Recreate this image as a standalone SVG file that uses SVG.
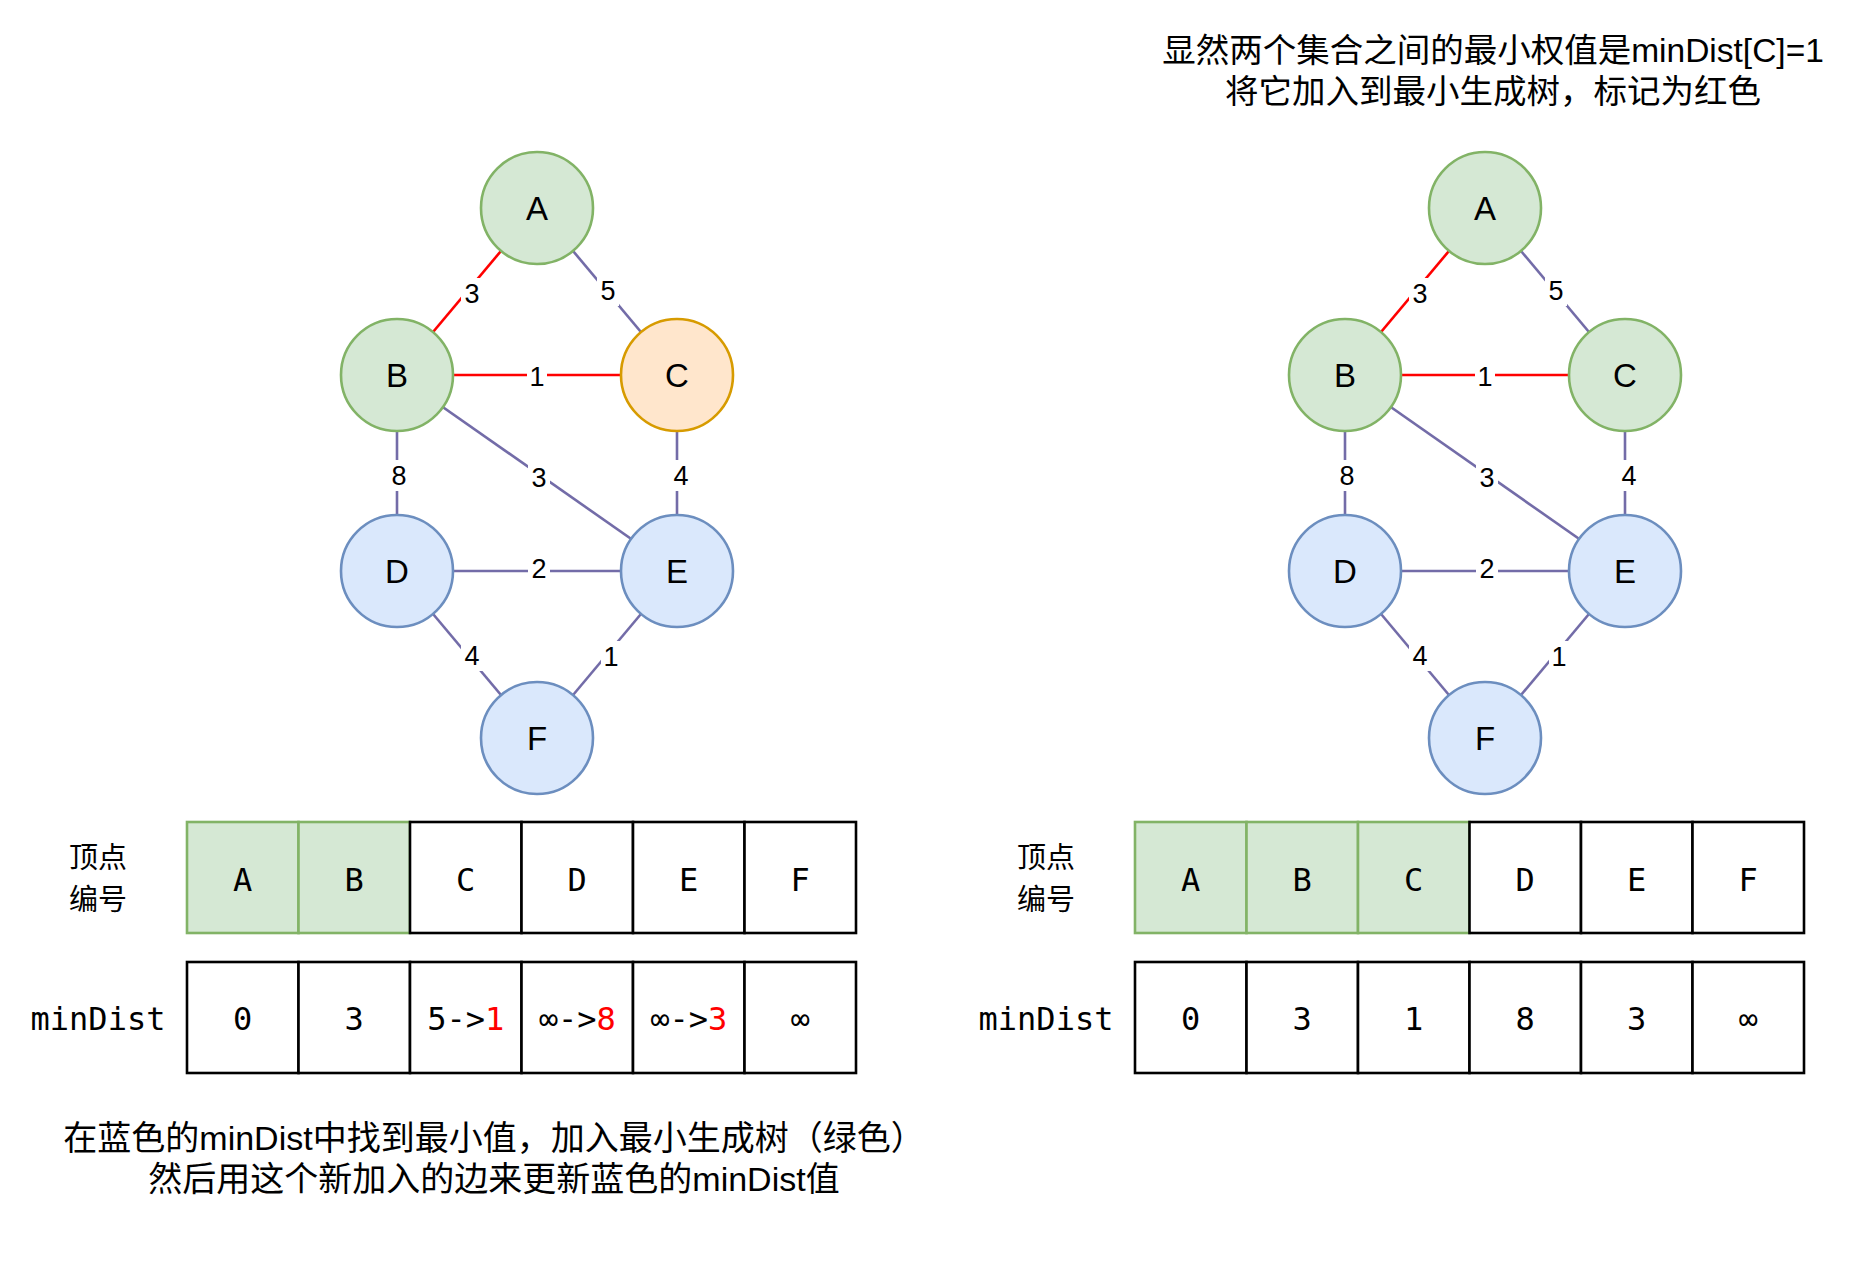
<svg xmlns="http://www.w3.org/2000/svg" width="1866" height="1270" viewBox="0 0 1866 1270">
<style>
.g{fill:#d5e8d4;stroke:#82b366;stroke-width:2.6}
.o{fill:#ffe6cc;stroke:#d79b00;stroke-width:2.6}
.b{fill:#dae8fc;stroke:#6c8ebf;stroke-width:2.6}
.nt{font-family:"Liberation Sans",Arial,sans-serif;font-size:33px;text-anchor:middle;fill:#000}
.e{stroke:#736ca8;stroke-width:2.6;fill:none}
.r{stroke:#ff0000;stroke-width:2.6;fill:none}
.lb{fill:#fff;stroke:none}
.lt{font-family:"Liberation Sans",Arial,sans-serif;font-size:27px;text-anchor:middle;fill:#000}
.cg{fill:#d5e8d4;stroke:#82b366;stroke-width:2.6}
.cw{fill:#fff;stroke:#000;stroke-width:2.6}
.mono{font-family:"DejaVu Sans Mono",monospace;font-size:32px;text-anchor:middle;fill:#000}
.cjk{font-family:"Noto Sans CJK SC",sans-serif;font-size:29px;text-anchor:middle;fill:#000}
.cap{font-family:"Liberation Sans","Noto Sans CJK SC",sans-serif;font-size:33.5px;text-anchor:middle;fill:#000}
.cap2{font-family:"Liberation Sans","Noto Sans CJK SC",sans-serif;font-size:34px;text-anchor:middle;fill:#000}
.red{fill:#ff0000}
</style>
<rect width="1866" height="1270" fill="#fff"/>

<g id="connectors-left">
<line class="r" x1="537" y1="208" x2="397" y2="375"/>
<line class="e" x1="537" y1="208" x2="677" y2="375"/>
<line class="r" x1="397" y1="375" x2="677" y2="375"/>
<line class="e" x1="397" y1="375" x2="397" y2="571"/>
<line class="e" x1="397" y1="375" x2="677" y2="571"/>
<line class="e" x1="677" y1="375" x2="677" y2="571"/>
<line class="e" x1="397" y1="571" x2="677" y2="571"/>
<line class="e" x1="397" y1="571" x2="537" y2="738"/>
<line class="e" x1="677" y1="571" x2="537" y2="738"/>
<g>
<rect class="lb" x="461" y="278" width="22" height="31"/><text class="lt" x="472" y="303">3</text>
<rect class="lb" x="597" y="275" width="22" height="31"/><text class="lt" x="608" y="300">5</text>
<rect class="lb" x="527" y="361" width="20" height="31"/><text class="lt" x="537" y="386">1</text>
<rect class="lb" x="388" y="460" width="22" height="31"/><text class="lt" x="399" y="485">8</text>
<rect class="lb" x="528" y="462" width="22" height="31"/><text class="lt" x="539" y="487">3</text>
<rect class="lb" x="670" y="460" width="22" height="31"/><text class="lt" x="681" y="485">4</text>
<rect class="lb" x="528" y="553" width="22" height="31"/><text class="lt" x="539" y="578">2</text>
<rect class="lb" x="461" y="640" width="22" height="31"/><text class="lt" x="472" y="665">4</text>
<rect class="lb" x="601" y="641" width="20" height="31"/><text class="lt" x="611" y="666">1</text>
</g>
</g>

<g id="nodeA-left"><circle class="g" cx="537" cy="208" r="56"/><text class="nt" x="537" y="220">A</text></g>
<g id="nodeB-left"><circle class="g" cx="397" cy="375" r="56"/><text class="nt" x="397" y="387">B</text></g>
<g id="nodeC-left"><circle class="o" cx="677" cy="375" r="56"/><text class="nt" x="677" y="387">C</text></g>
<g id="nodeD-left"><circle class="b" cx="397" cy="571" r="56"/><text class="nt" x="397" y="583">D</text></g>
<g id="nodeE-left"><circle class="b" cx="677" cy="571" r="56"/><text class="nt" x="677" y="583">E</text></g>
<g id="nodeF-left"><circle class="b" cx="537" cy="738" r="56"/><text class="nt" x="537" y="750">F</text></g>

<g id="connectors-right">
<line class="r" x1="1485" y1="208" x2="1345" y2="375"/>
<line class="e" x1="1485" y1="208" x2="1625" y2="375"/>
<line class="r" x1="1345" y1="375" x2="1625" y2="375"/>
<line class="e" x1="1345" y1="375" x2="1345" y2="571"/>
<line class="e" x1="1345" y1="375" x2="1625" y2="571"/>
<line class="e" x1="1625" y1="375" x2="1625" y2="571"/>
<line class="e" x1="1345" y1="571" x2="1625" y2="571"/>
<line class="e" x1="1345" y1="571" x2="1485" y2="738"/>
<line class="e" x1="1625" y1="571" x2="1485" y2="738"/>
<g>
<rect class="lb" x="1409" y="278" width="22" height="31"/><text class="lt" x="1420" y="303">3</text>
<rect class="lb" x="1545" y="275" width="22" height="31"/><text class="lt" x="1556" y="300">5</text>
<rect class="lb" x="1475" y="361" width="20" height="31"/><text class="lt" x="1485" y="386">1</text>
<rect class="lb" x="1336" y="460" width="22" height="31"/><text class="lt" x="1347" y="485">8</text>
<rect class="lb" x="1476" y="462" width="22" height="31"/><text class="lt" x="1487" y="487">3</text>
<rect class="lb" x="1618" y="460" width="22" height="31"/><text class="lt" x="1629" y="485">4</text>
<rect class="lb" x="1476" y="553" width="22" height="31"/><text class="lt" x="1487" y="578">2</text>
<rect class="lb" x="1409" y="640" width="22" height="31"/><text class="lt" x="1420" y="665">4</text>
<rect class="lb" x="1549" y="641" width="20" height="31"/><text class="lt" x="1559" y="666">1</text>
</g>
</g>

<g id="nodeA-right"><circle class="g" cx="1485" cy="208" r="56"/><text class="nt" x="1485" y="220">A</text></g>
<g id="nodeB-right"><circle class="g" cx="1345" cy="375" r="56"/><text class="nt" x="1345" y="387">B</text></g>
<g id="nodeC-right"><circle class="g" cx="1625" cy="375" r="56"/><text class="nt" x="1625" y="387">C</text></g>
<g id="nodeD-right"><circle class="b" cx="1345" cy="571" r="56"/><text class="nt" x="1345" y="583">D</text></g>
<g id="nodeE-right"><circle class="b" cx="1625" cy="571" r="56"/><text class="nt" x="1625" y="583">E</text></g>
<g id="nodeF-right"><circle class="b" cx="1485" cy="738" r="56"/><text class="nt" x="1485" y="750">F</text></g>

<g id="table-left">
<text class="cjk" x="98" y="868">顶点</text>
<text class="cjk" x="98" y="910">编号</text>
<rect class="cg" x="187" y="822" width="111.5" height="111"/>
<rect class="cg" x="298.5" y="822" width="111.5" height="111"/>
<rect class="cw" x="410" y="822" width="111.5" height="111"/>
<rect class="cw" x="521.5" y="822" width="111.5" height="111"/>
<rect class="cw" x="633" y="822" width="111.5" height="111"/>
<rect class="cw" x="744.5" y="822" width="111.5" height="111"/>
<text class="mono" x="242.75" y="890.5">A</text>
<text class="mono" x="354.25" y="890.5">B</text>
<text class="mono" x="465.75" y="890.5">C</text>
<text class="mono" x="577.25" y="890.5">D</text>
<text class="mono" x="688.75" y="890.5">E</text>
<text class="mono" x="800.25" y="890.5">F</text>
<text class="mono" x="98" y="1029.5">minDist</text>
<rect class="cw" x="187" y="962" width="111.5" height="111"/>
<rect class="cw" x="298.5" y="962" width="111.5" height="111"/>
<rect class="cw" x="410" y="962" width="111.5" height="111"/>
<rect class="cw" x="521.5" y="962" width="111.5" height="111"/>
<rect class="cw" x="633" y="962" width="111.5" height="111"/>
<rect class="cw" x="744.5" y="962" width="111.5" height="111"/>
<text class="mono" x="242.75" y="1029.5">0</text>
<text class="mono" x="354.25" y="1029.5">3</text>
<text class="mono" x="465.75" y="1029.5">5-&gt;<tspan class="red">1</tspan></text>
<text class="mono" x="577.25" y="1029.5">∞-&gt;<tspan class="red">8</tspan></text>
<text class="mono" x="688.75" y="1029.5">∞-&gt;<tspan class="red">3</tspan></text>
<text class="mono" x="800.25" y="1029.5">∞</text>
</g>

<g id="table-right">
<text class="cjk" x="1046" y="868">顶点</text>
<text class="cjk" x="1046" y="910">编号</text>
<rect class="cg" x="1135" y="822" width="111.5" height="111"/>
<rect class="cg" x="1246.5" y="822" width="111.5" height="111"/>
<rect class="cg" x="1358" y="822" width="111.5" height="111"/>
<rect class="cw" x="1469.5" y="822" width="111.5" height="111"/>
<rect class="cw" x="1581" y="822" width="111.5" height="111"/>
<rect class="cw" x="1692.5" y="822" width="111.5" height="111"/>
<text class="mono" x="1190.75" y="890.5">A</text>
<text class="mono" x="1302.25" y="890.5">B</text>
<text class="mono" x="1413.75" y="890.5">C</text>
<text class="mono" x="1525.25" y="890.5">D</text>
<text class="mono" x="1636.75" y="890.5">E</text>
<text class="mono" x="1748.25" y="890.5">F</text>
<text class="mono" x="1046" y="1029.5">minDist</text>
<rect class="cw" x="1135" y="962" width="111.5" height="111"/>
<rect class="cw" x="1246.5" y="962" width="111.5" height="111"/>
<rect class="cw" x="1358" y="962" width="111.5" height="111"/>
<rect class="cw" x="1469.5" y="962" width="111.5" height="111"/>
<rect class="cw" x="1581" y="962" width="111.5" height="111"/>
<rect class="cw" x="1692.5" y="962" width="111.5" height="111"/>
<text class="mono" x="1190.75" y="1029.5">0</text>
<text class="mono" x="1302.25" y="1029.5">3</text>
<text class="mono" x="1413.75" y="1029.5">1</text>
<text class="mono" x="1525.25" y="1029.5">8</text>
<text class="mono" x="1636.75" y="1029.5">3</text>
<text class="mono" x="1748.25" y="1029.5">∞</text>
</g>

<g id="captions">
<text class="cap" x="1493" y="62">显然两个集合之间的最小权值是minDist[C]=1</text>
<text class="cap" x="1493" y="103">将它加入到最小生成树，标记为红色</text>
<text class="cap2" x="494" y="1150">在蓝色的minDist中找到最小值，加入最小生成树（绿色）</text>
<text class="cap2" x="494" y="1191">然后用这个新加入的边来更新蓝色的minDist值</text>
</g>
</svg>
